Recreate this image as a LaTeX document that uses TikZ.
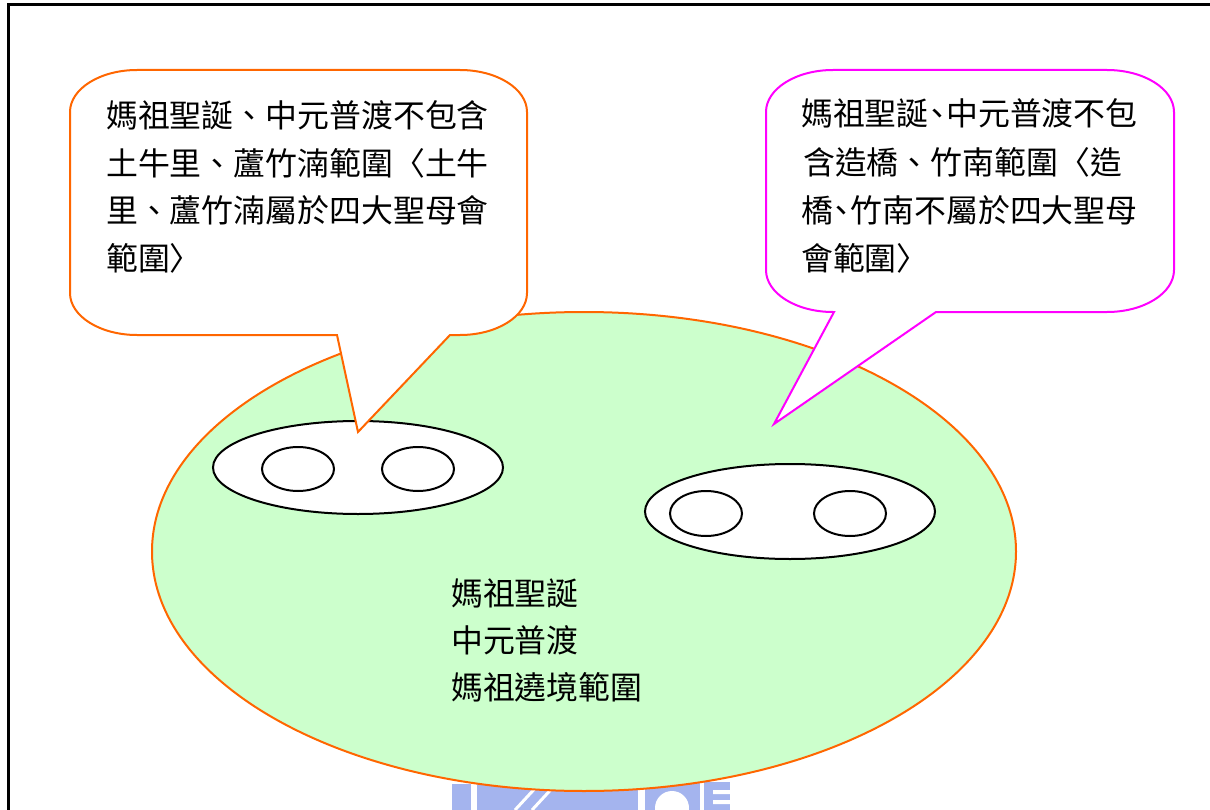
\documentclass[tikz,border=0pt]{standalone}
\usepackage{fontspec}
\newfontfamily\cjk{Noto Sans CJK TC}
\definecolor{orangeline}{HTML}{FF6600}
\definecolor{magline}{HTML}{FF00FF}
\definecolor{greenfill}{HTML}{CCFFCC}
\definecolor{wmblue}{HTML}{A4B4EE}
\newcommand{\hwc}{\makebox[0.55em][c]{、}}
\begin{document}
\begin{tikzpicture}[x=1bp,y=-1bp,
  txt/.style={anchor=base west, inner sep=0pt, font=\cjk\fontsize{32}{47}\selectfont},
  frameline/.style={line width=2.8bp, draw=black},
  bubble/.style={line width=2bp, fill=white, line join=miter},
  innerring/.style={draw=black, line width=2bp, fill=white},
  wm/.style={fill=wmblue}
]
\useasboundingbox (0,0) rectangle (1210,810);
% frame
\draw[frameline] (8.5,810) -- (8.5,4.3) -- (1210,4.3);
% faint watermark at bottom
\fill[wm] (452,784) rectangle (471,810);
\fill[wm] (477,782) rectangle (638,810);
\draw[white, line width=3bp] (515,810) -- (540,783) (532,810) -- (557,783);
\fill[wm] (645,782) rectangle (700,810);
\fill[white] (672,808) circle [radius=17];
\fill[wm] (704,782) rectangle (730,810);
\fill[white] (713,790) rectangle (730,794) (713,800) rectangle (730,804);
% big region
\draw[draw=orangeline, fill=greenfill, line width=2bp] (584,551.5) ellipse [x radius=432, y radius=239.5];
% left inner region
\draw[innerring] (358,467.5) ellipse [x radius=145, y radius=46.5];
\draw[innerring] (298,469) ellipse [x radius=36, y radius=22];
\draw[innerring] (418,469) ellipse [x radius=36, y radius=22];
% right inner region
\draw[innerring] (790,511.5) ellipse [x radius=145, y radius=47.5];
\draw[innerring] (706,513.5) ellipse [x radius=36, y radius=22.5];
\draw[innerring] (850,513.5) ellipse [x radius=36, y radius=22.5];
% centre text
\node[txt] (c1) at (451,605) {媽祖聖誕};
\node[txt] (c2) at (451,652) {中元普渡};
\node[txt] (c3) at (451,699) {媽祖遶境範圍};
% left callout
\draw[bubble, draw=orangeline] (137,70) -- (460,70)
  arc[start angle=270, end angle=360, x radius=67, y radius=42] -- (527,293)
  arc[start angle=0, end angle=90, x radius=67, y radius=42] -- (450,335)
  -- (358,432) -- (337,335) -- (137,335)
  arc[start angle=90, end angle=180, x radius=67, y radius=42] -- (70,112)
  arc[start angle=180, end angle=270, x radius=67, y radius=42] -- cycle;
\node[txt] (l1) at (106,127) {媽祖聖誕、中元普渡不包含};
\node[txt] (l2) at (106,175) {土牛里、蘆竹湳範圍〈土牛};
\node[txt] (l3) at (106,222) {里、蘆竹湳屬於四大聖母會};
\node[txt] (l4) at (106,270) {範圍〉};
% right callout
\draw[bubble, draw=magline] (833,70) -- (1107,70)
  arc[start angle=270, end angle=360, x radius=67, y radius=42] -- (1174,270)
  arc[start angle=0, end angle=90, x radius=67, y radius=42] -- (936,312)
  -- (774,424) -- (834,312) -- (833,312)
  arc[start angle=90, end angle=180, x radius=67, y radius=42] -- (766,112)
  arc[start angle=180, end angle=270, x radius=67, y radius=42] -- cycle;
\node[txt] (r1) at (801,125) {媽祖聖誕\hwc 中元普渡不包};
\node[txt] (r2) at (803,174) {含造橋、竹南範圍〈造};
\node[txt] (r3) at (801,222) {橋\hwc 竹南不屬於四大聖母};
\node[txt] (r4) at (801,270) {會範圍〉};
\end{tikzpicture}
\end{document}
